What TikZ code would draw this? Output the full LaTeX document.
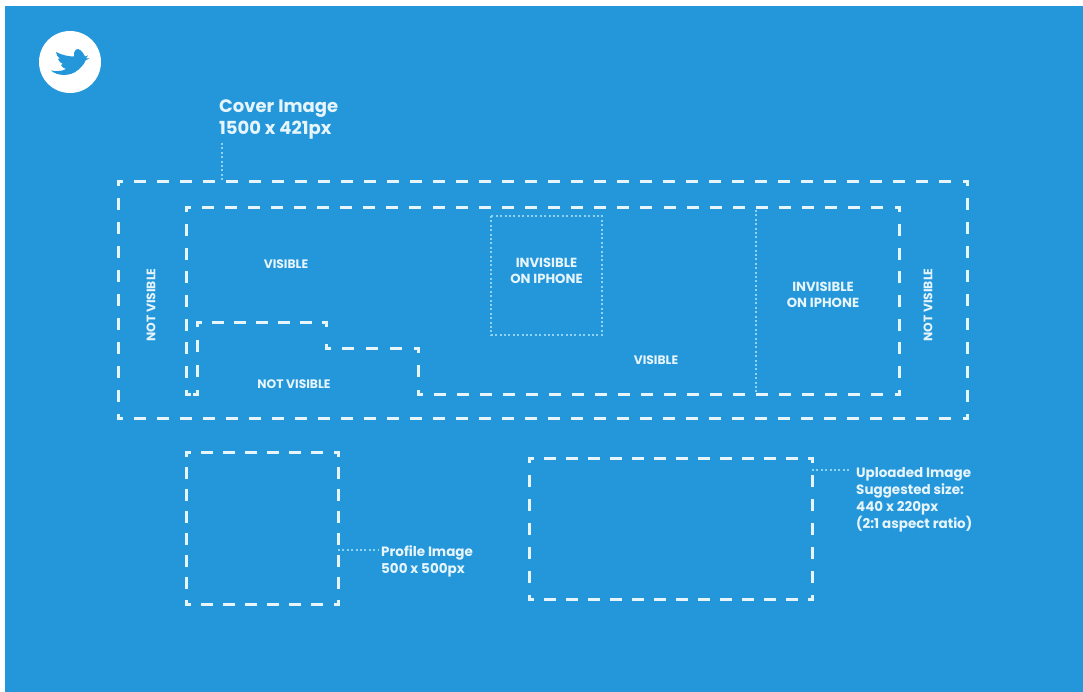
\documentclass[tikz,border=0pt]{standalone}
\usepackage{fontspec}
\setmainfont{Poppins}
\definecolor{bluebg}{HTML}{2496DA}
\definecolor{ink}{HTML}{E6F5FC}
\definecolor{dotink}{HTML}{8FD3F4}
\newcommand{\dashrun}[1]{%
  \foreach \ax/\ay/\bx/\by in {#1}{%
    \pgfmathsetmacro{\seglen}{abs(\bx-\ax)+abs(\by-\ay)}%
    \pgfmathsetmacro{\segk}{max(0,round((\seglen-6-12)/23))}%
    \pgfmathsetmacro{\seggap}{(\seglen-6-9*\segk)/(\segk+1)}%
    \draw[dashline,dash pattern=on 9pt off \seggap pt,dash phase=6pt] (\ax,\ay) -- (\bx,\by);
  }%
}
\tikzset{
  dashline/.style={draw=ink,line width=3pt,line cap=rect},
  dotline/.style={draw=dotink,line width=1.8pt,dash pattern=on 2pt off 2.4pt},
  lbl/.style={text=ink,font=\bfseries,inner sep=0pt,align=left,anchor=west},
  smalllbl/.style={lbl,font=\bfseries\fontsize{13.5}{17}\selectfont},
  caplbl/.style={text=ink,inner sep=0pt,align=center,font=\bfseries\fontsize{12.3}{16}\selectfont},
  invlbl/.style={caplbl,font=\bfseries\fontsize{13.2}{16}\selectfont},
  biglbl/.style={lbl,font=\bfseries\fontsize{18}{22}\selectfont},
  x=1pt,y=-1pt
}
\begin{document}
\begin{tikzpicture}
\useasboundingbox (0,0) rectangle (1083,692);
\fill[white] (0,0) rectangle (1083,692);
\fill[bluebg] (5,6) rectangle (1083,692);
% logo
\node[circle,fill=white,minimum size=62pt,inner sep=0pt] (logo) at (70,62) {};
\fill[bluebg] (51,70.5) .. controls (57,76) and (70,77) .. (78,70)
  .. controls (83,66) and (85,62) .. (85.5,60.5)
  -- (89.5,58.5) -- (86,58.5) -- (88,55.5) -- (85,56.5)
  .. controls (83,52) and (79,47.5) .. (76,49.5)
  .. controls (74,51) and (73.5,54) .. (74,56.5)
  .. controls (68,56.5) and (62,55) .. (56,52)
  .. controls (56,55) and (58,57) .. (60,58.5)
  -- (58,59) .. controls (59,62) and (61,63) .. (63,64)
  -- (61,65) .. controls (62,67) and (64,68.5) .. (66,69)
  .. controls (62,71.5) and (56,71.5) .. (51,70.5) -- cycle;
% boxes
\dashrun{118/182/967/182, 967/182/967/418, 967/418/118/418, 118/418/118/182}
\dashrun{186/208/899/208, 899/208/899/394, 899/394/418/394, 418/394/418/348, 418/348/326/348, 326/348/326/322, 326/322/197/322, 197/322/197/394, 197/394/186/394, 186/394/186/208}
\dashrun{186/452/338/452, 338/452/338/604, 338/604/186/604, 186/604/186/452}
\dashrun{529/458/812/458, 812/458/812/599, 812/599/529/599, 529/599/529/458}
% dotted regions
\draw[dotline] (491,216) rectangle (602,335);
\coordinate (dtop) at (756,210);
\coordinate (dbot) at (756,393);
\draw[dotline] (dtop) -- (dbot);
% labels
\node[biglbl] (cover) at (219,120) {Cover Image\\1500 x 421px};
\node[caplbl] (vis1) at (286,264) {VISIBLE};
\node[caplbl] (vis2) at (656,360) {VISIBLE};
\node[invlbl] (inv1) at (546.5,270.5) {INVISIBLE\\ON IPHONE};
\node[invlbl] (inv2) at (823,295) {INVISIBLE\\ON IPHONE};
\node[caplbl] (nv1) at (294,384) {NOT VISIBLE};
\node[caplbl,rotate=90] (nv2) at (151,305) {NOT VISIBLE};
\node[caplbl,rotate=90] (nv3) at (928,305) {NOT VISIBLE};
\node[smalllbl] (prof) at (381,561.5) {Profile Image\\500 x 500px};
\node[smalllbl] (upl) at (856,499.5) {Uploaded Image\\Suggested size:\\440 x 220px\\(2:1 aspect ratio)};
% leaders
\coordinate (cp) at (222,182);
\coordinate (pp) at (338,550);
\coordinate (up) at (812,470);
\coordinate (cl) at (222,143);
\coordinate (pl) at (378,550);
\coordinate (ul) at (850,470);
\draw[dotline] (cl) -- (cp);
\draw[dotline] (pp) -- (pl);
\draw[dotline] (up) -- (ul);
\end{tikzpicture}
\end{document}
